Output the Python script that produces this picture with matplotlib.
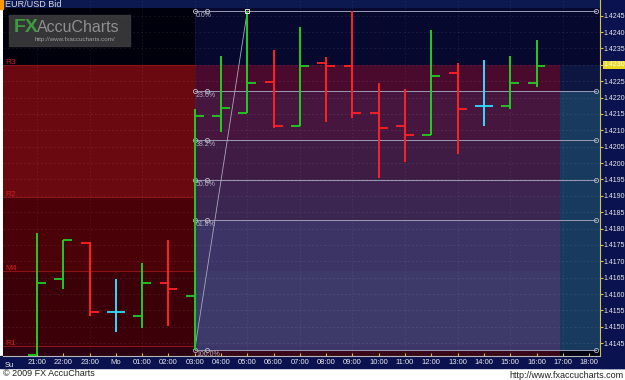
import matplotlib
matplotlib.use('Agg')
import matplotlib.pyplot as plt
from matplotlib.patches import Rectangle

plt.rcParams['font.family'] = ['Liberation Sans', 'DejaVu Sans']

#hourly EUR/USD bars, index 0 = Sunday 21:00
hour_labels = ['21:00', '22:00', '23:00', 'Mo', '01:00', '02:00', '03:00', '04:00', '05:00', '06:00', '07:00',
               '08:00', '09:00', '10:00', '11:00', '12:00', '13:00', '14:00', '15:00', '16:00', '17:00', '18:00']
opens  = [1.41414, 1.41645, 1.41757, 1.41545, 1.41533, 1.41635, 1.41595, 1.42145, 1.42154, 1.42247,
          1.42114, 1.42307, 1.42297, 1.42154, 1.42114, 1.42086, 1.42276, 1.42174, 1.42174, 1.42245]
highs  = [1.41786, 1.41765, 1.41760, 1.41646, 1.41694, 1.41764, 1.42165, 1.42327, 1.42464, 1.42345,
          1.42415, 1.42325, 1.42464, 1.42245, 1.42225, 1.42406, 1.42305, 1.42315, 1.42327, 1.42376]
lows   = [1.41414, 1.41615, 1.41533, 1.41485, 1.41496, 1.41503, 1.41430, 1.42094, 1.42154, 1.42106,
          1.42114, 1.42125, 1.42137, 1.41955, 1.42004, 1.42086, 1.42027, 1.42114, 1.42166, 1.42233]
closes = [1.41635, 1.41765, 1.41545, 1.41545, 1.41635, 1.41615, 1.42145, 1.42167, 1.42245, 1.42114,
          1.42297, 1.42297, 1.42154, 1.42106, 1.42086, 1.42267, 1.42166, 1.42174, 1.42245, 1.42297]

#pivot levels
pivot_names  = ['R3', 'R2', 'M4', 'R1']
pivot_levels = [1.42300, 1.41897, 1.41670, 1.41442]

#fibonacci retracement, 03:00 low -> 05:00 high
fib_high = 1.42464
fib_low  = 1.41430
fib_pcts = [0.0, 23.6, 38.2, 50.0, 61.8, 100.0]
fib_idx_low, fib_idx_high = 6, 8

last_price = 1.4230
y_ticks = [1.4145 + 0.0005 * k for k in range(21)]

W, H = 625, 380
fig = plt.figure(figsize=(W / 100, H / 100), dpi=100)
fig.patch.set_facecolor('white')

#navy strips for the axes
fig.add_artist(Rectangle((0, (H - 368) / H), 1, 12 / H, transform=fig.transFigure, color='#0a1250', zorder=0))
fig.add_artist(Rectangle((600 / W, (H - 368) / H), 25 / W, 368 / H, transform=fig.transFigure, color='#0a1250', zorder=0))

ax = fig.add_axes([3 / W, (H - 356) / H, 597 / W, 356 / H])
xlo, xhi = -1.293, 21.415
ylo, yhi = 1.41411, 1.42498
ax.set_xlim(xlo, xhi)
ax.set_ylim(ylo, yhi)

fib_levels = [fib_high - p / 100 * (fib_high - fib_low) for p in fib_pcts]
R3, R2, M4, R1 = pivot_levels
x_split, x_future = 6, 19.9

def band(x0, x1, y0, y1, c):
    ax.add_patch(Rectangle((x0, min(y0, y1)), x1 - x0, abs(y1 - y0), color=c, lw=0, zorder=0))

#left column: pivot zones
for y0, y1, c in [(yhi, R3, '#00000c'), (R3, R2, '#6a0a10'), (R2, M4, '#4a0208'),
                  (M4, R1, '#3c0008'), (R1, ylo, '#2c0010')]:
    band(xlo, x_split, y0, y1, c)
#middle column: pivot zones under fib zones
f = fib_levels
for y0, y1, c in [(yhi, R3, '#07082e'), (R3, f[1], '#4a0a2e'), (f[1], f[2], '#46163e'),
                  (f[2], f[3], '#3e1c44'), (f[3], R2, '#3e2450'), (R2, f[4], '#3a2650'),
                  (f[4], M4, '#3c3464'), (M4, R1, '#3d3a6a'), (R1, f[5], '#3a3668'), (f[5], ylo, '#380818')]:
    band(x_split, x_future, y0, y1, c)
#right column: future hours
for y0, y1, c in [(yhi, R3, '#07082e'), (R3, f[1], '#0c1640'), (f[1], f[5], '#173a5e'), (f[5], ylo, '#000010')]:
    band(x_future, xhi, y0, y1, c)
#top strip
ax.add_patch(Rectangle((0, 1 - 8 / 356), 1, 8 / 356, transform=ax.transAxes, color='#0c1850', lw=0, zorder=0))

#grid
for y in y_ticks:
    ax.axhline(y, color='white', alpha=0.10, lw=0.5, ls=(0, (3, 3)), zorder=1)
for i in range(0, len(hour_labels), 2):
    ax.axvline(i, color='white', alpha=0.10, lw=0.5, ls=(0, (2, 3)), zorder=1)

#pivot lines and labels
for name, lvl in zip(pivot_names, pivot_levels):
    ax.plot([xlo, x_split], [lvl, lvl], color='#8a1418', lw=0.8, zorder=2)
    ax.text(xlo + 0.08, lvl + 0.00008, name, color='#d01c1c', fontsize=6, va='center', ha='left', zorder=3)

#fib lines
for p, lvl in zip(fib_pcts, fib_levels):
    ax.plot([x_split, 21.26], [lvl, lvl], color='#9c9cb4', lw=0.7, zorder=2)
    ax.plot([x_split, 6.45, 21.26], [lvl] * 3, ls='none', marker='o', ms=3, mfc='none', mec='#b8b8c8', mew=0.6, zorder=3)
    ax.text(x_split + 0.05, lvl - 0.00003, '{:.1f}%'.format(p), color='#b0b0c0', fontsize=5, va='top', ha='left', zorder=3)
ax.plot([fib_idx_low, fib_idx_high], [fib_low, fib_high], color='#a8a8bc', lw=0.6, zorder=2)
ax.plot([fib_idx_high], [fib_high], ls='none', marker='s', ms=3.5, mfc='none', mec='#e0e0e0', mew=0.7, zorder=6)

#ohlc bars
w = 0.34
for i in range(len(opens)):
    if closes[i] > opens[i]:
        c = '#22cc22'
    elif closes[i] < opens[i]:
        c = '#ff2222'
    else:
        c = '#33ddff'
    ax.vlines(i, lows[i], highs[i], color=c, lw=1.4, zorder=5)
    ax.hlines(opens[i], i - w, i, color=c, lw=1.3, zorder=5)
    ax.hlines(closes[i], i, i + w, color=c, lw=1.3, zorder=5)

#axes styling
for s in ['top', 'left']:
    ax.spines[s].set_visible(False)
ax.spines['right'].set_color('#d8c040')
ax.spines['bottom'].set_color('#b8b8b8')
ax.yaxis.tick_right()
ax.set_yticks(y_ticks)
ax.set_yticklabels(['{:.4f}'.format(y) for y in y_ticks])
ax.tick_params(axis='y', colors='#d8c040', labelcolor='#e8e8e8', labelsize=5, length=2, width=0.8, pad=0.8)
ax.set_xticks(range(len(hour_labels)))
ax.set_xticklabels(hour_labels)
ax.tick_params(axis='x', colors='#d8c040', labelcolor='#e8e8e8', labelsize=5.5, length=2, width=0.8, pad=2.5, direction='in')
ax.text(0.003, -0.018, 'Su', transform=ax.transAxes, color='#e8e8e8', fontsize=5.5, va='top', ha='left')

#last price box
ax.text(1.0065, last_price, '{:.4f}'.format(last_price), transform=ax.get_yaxis_transform(), color='white',
        fontsize=5, va='center', ha='left', zorder=10, bbox=dict(boxstyle='square,pad=0.1', fc='#e8d820', ec='none'))

#header and watermark
fig.add_artist(Rectangle((0, 1 - 9 / H), 3 / W, 9 / H, transform=fig.transFigure, color='#ff9900'))
fig.text(5 / W, 1 - 4.5 / H, 'EUR/USD Bid', color='#dcdcdc', fontsize=6.5, va='center', ha='left')
fig.add_artist(Rectangle((9 / W, 1 - 46 / H), 121 / W, 31 / H, transform=fig.transFigure, color='#3c3c3c', alpha=0.9))
fig.text(14 / W, 1 - 27 / H, 'FX', color='#3f9a3f', fontsize=14, fontweight='bold', va='center', ha='left')
fig.text(37 / W, 1 - 28 / H, 'AccuCharts', color='#8e8e8e', fontsize=11.5, va='center', ha='left')
fig.text(35 / W, 1 - 40 / H, 'http://www.fxaccucharts.com/', color='#a0a0a0', fontsize=4.5, va='center', ha='left')

#footer
fig.text(3 / W, 1 - 374 / H, '\u00a9 2009 FX AccuCharts', color='#202020', fontsize=6.5, va='center', ha='left')
fig.text(623 / W, 1 - 375 / H, 'http://www.fxaccucharts.com', color='#202020', fontsize=6.5, va='center', ha='right')

fig.savefig('out.png', dpi=100)
